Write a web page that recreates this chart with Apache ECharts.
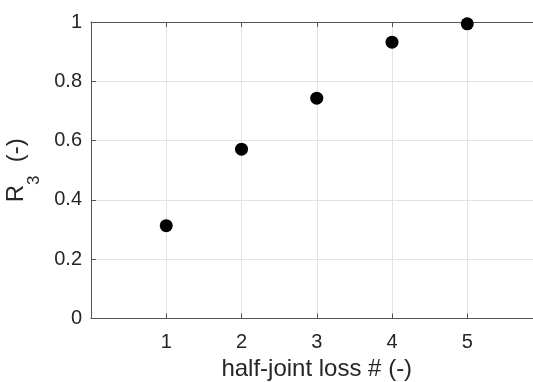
<!DOCTYPE html>
<html><head><meta charset="utf-8">
<script src="https://cdn.jsdelivr.net/npm/echarts@6/dist/echarts.min.js"></script>
<style>html,body{margin:0;padding:0;background:#fff}#c{width:533px;height:382px}</style>
</head><body><div id="c"></div>
<script>
const halfJointLoss = [1, 2, 3, 4, 5];
const r3Values = [0.313, 0.571, 0.743, 0.932, 0.994];
const xTickLabels = ['1', '2', '3', '4', '5'];
const yTickLabels = ['0', '0.2', '0.4', '0.6', '0.8', '1'];
const xAxisTitle = 'half-joint loss # (-)';

const FONT = "'Liberation Sans', Arial, Helvetica, sans-serif";
const AXIS_COLOR = '#555555';
const TEXT_COLOR = '#262626';
const GRID_COLOR = '#e3e3e3';

const chart = echarts.init(document.getElementById('c'), null, {renderer: 'canvas'});
const baseX = {
  type: 'value', min: 0, max: 6, interval: 1,
  axisLine: {show: true, lineStyle: {color: AXIS_COLOR, width: 1}},
  axisTick: {show: true, inside: true, length: 5, lineStyle: {color: AXIS_COLOR}}
};
chart.setOption({
  animation: false,
  backgroundColor: '#ffffff',
  grid: {left: 91, top: 22, width: 451.5, height: 296.5, containLabel: false, outerBoundsMode: 'none'},
  xAxis: [
    Object.assign({}, baseX, {
      position: 'bottom',
      name: xAxisTitle,
      nameLocation: 'middle',
      nameGap: 38,
      nameTextStyle: {fontFamily: FONT, fontSize: 24, color: TEXT_COLOR},
      axisLabel: {
        fontFamily: FONT, fontSize: 20, color: TEXT_COLOR, margin: 14,
        formatter: v => xTickLabels.includes(String(v)) ? String(v) : ''
      },
      splitLine: {show: true, lineStyle: {color: GRID_COLOR, width: 1}}
    }),
    Object.assign({}, baseX, {
      position: 'top',
      axisLabel: {show: false},
      splitLine: {show: false}
    })
  ],
  yAxis: {
    type: 'value', min: 0, max: 1, interval: 0.2,
    name: '{a|R}{sub|3}{a|  (-)}',
    nameLocation: 'middle',
    nameGap: 40,
    nameRotate: 90,
    nameTextStyle: {
      fontFamily: FONT, color: TEXT_COLOR,
      rich: {
        a: {fontFamily: FONT, fontSize: 24, lineHeight: 26, verticalAlign: 'top', color: TEXT_COLOR},
        sub: {fontFamily: FONT, fontSize: 17, lineHeight: 17, padding: [22, 0, 0, 0], verticalAlign: 'top', color: TEXT_COLOR}
      }
    },
    axisLine: {show: true, lineStyle: {color: AXIS_COLOR, width: 1}},
    axisTick: {show: true, inside: true, length: 5, lineStyle: {color: AXIS_COLOR}},
    axisLabel: {
      fontFamily: FONT, fontSize: 20, color: TEXT_COLOR, margin: 9,
      formatter: v => yTickLabels[Math.round(v / 0.2)]
    },
    splitLine: {show: true, lineStyle: {color: GRID_COLOR, width: 1}}
  },
  series: [{
    type: 'scatter',
    xAxisIndex: 0,
    data: halfJointLoss.map((x, i) => [x, r3Values[i]]),
    symbol: 'circle',
    symbolSize: 13,
    itemStyle: {color: '#000000', opacity: 1},
    emphasis: {disabled: true},
    clip: false
  }]
});
</script>
</body></html>
